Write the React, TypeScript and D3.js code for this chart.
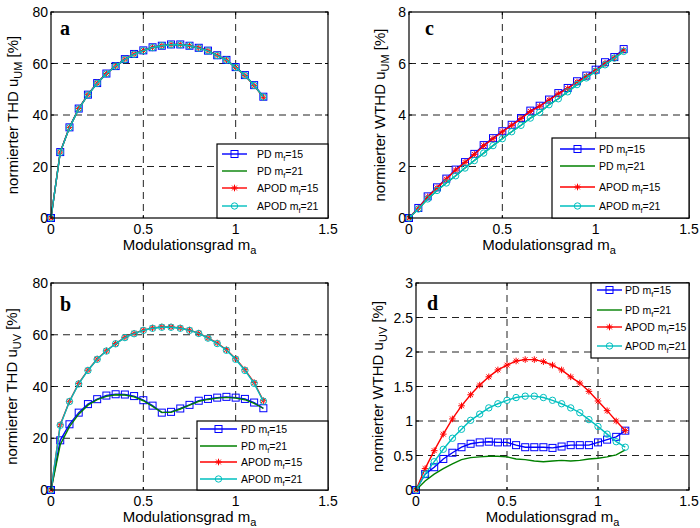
import React from 'react';
import * as d3 from 'd3';

// ---------- data ----------
const ma = [0, 0.05, 0.1, 0.15, 0.2, 0.25, 0.3, 0.35, 0.4, 0.45, 0.5, 0.55, 0.6, 0.65, 0.7, 0.75, 0.8, 0.85, 0.9, 0.95, 1.0, 1.05, 1.1, 1.15];

const xTicks = [0, 0.5, 1, 1.5];
const xTickLabels = ['0', '0.5', '1', '1.5'];
const thdTicks = [0, 20, 40, 60, 80];
const thdTickLabels = ['0', '20', '40', '60', '80'];
const wthdUMTicks = [0, 2, 4, 6, 8];
const wthdUMTickLabels = ['0', '2', '4', '6', '8'];
const wthdUVTicks = [0, 0.5, 1, 1.5, 2, 2.5, 3];
const wthdUVTickLabels = ['0', '0.5', '1', '1.5', '2', '2.5', '3'];

const seriesNames = ['PD', 'PD', 'APOD', 'APOD'];
const seriesMf = ['15', '21', '15', '21'];

// a: THD u_UM
const thdUM_PD15 = [0, 25.6, 35.2, 42.5, 47.9, 52.4, 56.1, 59.0, 61.7, 63.7, 65.1, 66.3, 66.9, 67.4, 67.4, 66.9, 66.1, 65.0, 63.2, 61.4, 58.6, 55.5, 51.6, 47.1];
const thdUM_PD21 = [0, 25.5, 35.1, 42.4, 47.8, 52.3, 56.0, 59.0, 61.6, 63.6, 65.0, 66.2, 66.9, 67.3, 67.3, 66.9, 66.0, 64.9, 63.1, 61.3, 58.5, 55.4, 51.5, 47.0];
const thdUM_APOD15 = [0, 25.6, 35.2, 42.5, 47.9, 52.4, 56.1, 59.0, 61.7, 63.7, 65.1, 66.3, 66.9, 67.4, 67.4, 66.9, 66.1, 65.0, 63.2, 61.3, 58.5, 55.3, 51.4, 46.9];
const thdUM_APOD21 = [0, 25.5, 35.1, 42.4, 47.8, 52.3, 56.0, 59.0, 61.6, 63.6, 65.0, 66.2, 66.9, 67.3, 67.3, 66.9, 66.0, 64.9, 63.1, 61.3, 58.5, 55.4, 51.5, 47.0];

// b: THD u_UV
const thdUV_PD15 = [0, 19.2, 25.4, 29.9, 33.2, 35.1, 36.5, 37.0, 36.9, 36.3, 34.7, 32.6, 29.9, 30.2, 31.5, 32.9, 34.5, 35.2, 35.7, 36.0, 35.7, 35.2, 33.8, 31.6];
const thdUV_PD21 = [0, 17.5, 24.5, 29.3, 32.8, 34.9, 36.2, 36.8, 36.7, 36.0, 34.5, 32.3, 30.0, 30.0, 31.3, 32.8, 34.3, 35.0, 35.5, 35.8, 35.5, 34.9, 33.5, 31.5];
const thdUV_APOD15 = [0, 25.2, 34.3, 41.2, 46.3, 50.6, 53.8, 56.6, 59.0, 60.5, 61.8, 62.6, 63.0, 63.0, 62.6, 61.8, 60.6, 58.8, 56.8, 54.2, 50.7, 46.5, 41.5, 34.5];
const thdUV_APOD21 = [0, 25.0, 34.2, 41.0, 46.2, 50.5, 53.7, 56.5, 58.9, 60.4, 61.7, 62.5, 62.9, 62.9, 62.5, 61.7, 60.5, 58.7, 56.6, 54.0, 50.5, 46.2, 41.2, 34.3];

// c: WTHD u_UM
const wthdUM_PD15 = [0, 0.39, 0.84, 1.19, 1.53, 1.88, 2.17, 2.49, 2.83, 3.10, 3.37, 3.62, 3.88, 4.17, 4.36, 4.60, 4.85, 5.05, 5.31, 5.53, 5.76, 6.05, 6.25, 6.56];
const wthdUM_PD21 = [0, 0.35, 0.74, 1.07, 1.36, 1.64, 1.94, 2.23, 2.52, 2.81, 3.08, 3.35, 3.60, 3.88, 4.10, 4.40, 4.63, 4.90, 5.18, 5.44, 5.70, 5.95, 6.21, 6.47];
const wthdUM_APOD15 = [0, 0.38, 0.82, 1.17, 1.51, 1.86, 2.16, 2.47, 2.81, 3.08, 3.35, 3.60, 3.86, 4.14, 4.34, 4.58, 4.82, 5.03, 5.28, 5.50, 5.73, 6.01, 6.22, 6.52];
const wthdUM_APOD21 = [0, 0.35, 0.74, 1.07, 1.36, 1.64, 1.94, 2.23, 2.52, 2.81, 3.08, 3.35, 3.60, 3.88, 4.10, 4.40, 4.63, 4.90, 5.18, 5.44, 5.70, 5.95, 6.21, 6.47];

// d: WTHD u_UV
const wthdUV_PD15 = [0, 0.23, 0.33, 0.45, 0.54, 0.62, 0.67, 0.69, 0.70, 0.69, 0.69, 0.65, 0.62, 0.62, 0.62, 0.61, 0.63, 0.65, 0.65, 0.65, 0.69, 0.73, 0.77, 0.86];
const wthdUV_PD21 = [0, 0.13, 0.23, 0.31, 0.38, 0.44, 0.47, 0.48, 0.49, 0.49, 0.48, 0.45, 0.44, 0.42, 0.41, 0.42, 0.43, 0.42, 0.43, 0.45, 0.46, 0.48, 0.51, 0.58];
const wthdUV_APOD15 = [0, 0.31, 0.57, 0.81, 1.03, 1.22, 1.38, 1.52, 1.64, 1.74, 1.81, 1.87, 1.89, 1.89, 1.86, 1.81, 1.74, 1.64, 1.55, 1.43, 1.29, 1.15, 1.00, 0.86];
const wthdUV_APOD21 = [0, 0.23, 0.41, 0.59, 0.75, 0.88, 1.01, 1.10, 1.19, 1.25, 1.30, 1.34, 1.36, 1.36, 1.34, 1.30, 1.25, 1.19, 1.12, 1.02, 0.92, 0.81, 0.70, 0.62];

// ---------- styling ----------
const COLORS = ['#0000ff', '#008000', '#ff0000', '#00bfbf'];
const MARKERS = ['square', 'none', 'star', 'circle'];
const FONT = 'Liberation Sans, Arial, sans-serif';

type Panel = {
  letter: string;
  ylab: string;
  ysub: string;
  ymax: number;
  yticks: number[];
  ytickLabels: string[];
  series: number[][];
  x0: number; x1: number; y0: number; y1: number;
  ylabX: number;
  letterX: number; letterY: number;
  leg: { x: number; y: number; w: number; h: number; rows: number[]; l1: number; l2: number; tx: number };
};

const panels: Panel[] = [
  {
    letter: 'a', ylab: 'normierter THD u', ysub: 'UM', ymax: 80, yticks: thdTicks, ytickLabels: thdTickLabels,
    series: [thdUM_PD15, thdUM_PD21, thdUM_APOD15, thdUM_APOD21],
    x0: 51, x1: 328, y0: 12, y1: 218, ylabX: 18, letterX: 60, letterY: 35,
    leg: { x: 217, y: 144, w: 111, h: 74, rows: [154, 171, 188, 206], l1: 222, l2: 247, tx: 257 },
  },
  {
    letter: 'b', ylab: 'normierter THD u', ysub: 'UV', ymax: 80, yticks: thdTicks, ytickLabels: thdTickLabels,
    series: [thdUV_PD15, thdUV_PD21, thdUV_APOD15, thdUV_APOD21],
    x0: 51, x1: 328, y0: 283, y1: 490, ylabX: 17, letterX: 60, letterY: 311,
    leg: { x: 197, y: 421, w: 131, h: 69, rows: [429, 446, 462, 479], l1: 200, l2: 237, tx: 241 },
  },
  {
    letter: 'c', ylab: 'normierter WTHD u', ysub: 'UM', ymax: 8, yticks: wthdUMTicks, ytickLabels: wthdUMTickLabels,
    series: [wthdUM_PD15, wthdUM_PD21, wthdUM_APOD15, wthdUM_APOD21],
    x0: 409, x1: 689, y0: 12, y1: 218, ylabX: 385, letterX: 425, letterY: 35,
    leg: { x: 552, y: 138, w: 137, h: 80, rows: [149, 166, 187, 206], l1: 560, l2: 595, tx: 599 },
  },
  {
    letter: 'd', ylab: 'normierter WTHD u', ysub: 'UV', ymax: 3, yticks: wthdUVTicks, ytickLabels: wthdUVTickLabels,
    series: [wthdUV_PD15, wthdUV_PD21, wthdUV_APOD15, wthdUV_APOD21],
    x0: 416, x1: 689, y0: 283, y1: 490, ylabX: 383, letterX: 427, letterY: 310,
    leg: { x: 591, y: 283, w: 98, h: 75, rows: [290, 310, 327, 346], l1: 597, l2: 622, tx: 625 },
  },
];

function Marker({ type, x, y, color }: { type: string; x: number; y: number; color: string }) {
  if (type === 'square') {
    return <rect x={x - 3.5} y={y - 3.5} width={7} height={7} fill="none" stroke={color} strokeWidth={1} />;
  }
  if (type === 'circle') {
    return <circle cx={x} cy={y} r={3.2} fill="none" stroke={color} strokeWidth={1} />;
  }
  if (type === 'star') {
    const s = 3.3;
    const d2 = 2.4;
    return (
      <g stroke={color} strokeWidth={1}>
        <line x1={x - s} y1={y} x2={x + s} y2={y} />
        <line x1={x} y1={y - s} x2={x} y2={y + s} />
        <line x1={x - d2} y1={y - d2} x2={x + d2} y2={y + d2} />
        <line x1={x - d2} y1={y + d2} x2={x + d2} y2={y - d2} />
      </g>
    );
  }
  return null;
}

function PanelView({ p }: { p: Panel }) {
  const x = d3.scaleLinear().domain([0, 1.5]).range([p.x0, p.x1]);
  const y = d3.scaleLinear().domain([0, p.ymax]).range([p.y1, p.y0]);
  const line = d3.line<number>().x((_, i) => x(ma[i])).y((v) => y(v));
  const cx = (p.x0 + p.x1) / 2;
  const cy = (p.y0 + p.y1) / 2;
  return (
    <g>
      <rect x={p.x0} y={p.y0} width={p.x1 - p.x0} height={p.y1 - p.y0} fill="#fff" />
      {/* grid */}
      {xTicks.filter((t) => t > 0 && t < 1.5).map((t) => (
        <line key={'gx' + t} x1={x(t)} x2={x(t)} y1={p.y0} y2={p.y1} stroke="#222" strokeWidth={1} strokeDasharray="7,5" />
      ))}
      {p.yticks.filter((t) => t > 0 && t < p.ymax).map((t) => (
        <line key={'gy' + t} x1={p.x0} x2={p.x1} y1={y(t)} y2={y(t)} stroke="#222" strokeWidth={1} strokeDasharray="7,5" />
      ))}
      {/* ticks */}
      {xTicks.map((t, i) => (
        <g key={'xt' + t}>
          <line x1={x(t)} x2={x(t)} y1={p.y1} y2={p.y1 - 3} stroke="#000" />
          <line x1={x(t)} x2={x(t)} y1={p.y0} y2={p.y0 + 3} stroke="#000" />
          <text x={x(t)} y={p.y1 + 16} textAnchor="middle" fontSize={14} fontFamily={FONT} fill="#000">{xTickLabels[i]}</text>
        </g>
      ))}
      {p.yticks.map((t, i) => (
        <g key={'yt' + t}>
          <line x1={p.x0} x2={p.x0 + 3} y1={y(t)} y2={y(t)} stroke="#000" />
          <line x1={p.x1} x2={p.x1 - 3} y1={y(t)} y2={y(t)} stroke="#000" />
          <text x={p.x0 - 3} y={y(t)} dy="0.36em" textAnchor="end" fontSize={14} fontFamily={FONT} fill="#000">{p.ytickLabels[i]}</text>
        </g>
      ))}
      {/* series */}
      {p.series.map((s, si) => (
        <g key={'s' + si}>
          <path d={line(s) || ''} fill="none" stroke={COLORS[si]} strokeWidth={1.4} />
          {s.map((v, i) => (
            <Marker key={i} type={MARKERS[si]} x={x(ma[i])} y={y(v)} color={COLORS[si]} />
          ))}
        </g>
      ))}
      {/* box */}
      <rect x={p.x0} y={p.y0} width={p.x1 - p.x0} height={p.y1 - p.y0} fill="none" stroke="#000" strokeWidth={1.2} />
      {/* panel letter */}
      <text x={p.letterX} y={p.letterY} fontSize={20} fontWeight="bold" fontFamily="Liberation Serif, Times New Roman, serif" fill="#000">{p.letter}</text>
      {/* legend */}
      <rect x={p.leg.x} y={p.leg.y} width={p.leg.w} height={p.leg.h} fill="#fff" stroke="#000" strokeWidth={1.2} />
      {seriesNames.map((n, si) => {
        const ry = p.leg.rows[si];
        const mx = (p.leg.l1 + p.leg.l2) / 2;
        return (
          <g key={'l' + si}>
            <line x1={p.leg.l1} x2={p.leg.l2} y1={ry} y2={ry} stroke={COLORS[si]} strokeWidth={1.4} />
            <Marker type={MARKERS[si]} x={mx} y={ry} color={COLORS[si]} />
            <text x={p.leg.tx} y={ry} dy="0.35em" fontSize={10.5} fontFamily={FONT} fill="#000">
              {n} m<tspan fontSize={7.5} dy={3}>f</tspan><tspan dy={-3}>={seriesMf[si]}</tspan>
            </text>
          </g>
        );
      })}
      {/* axis labels */}
      <text x={cx} y={p.y1 + 32} textAnchor="middle" fontSize={15} fontFamily={FONT} fill="#000">
        Modulationsgrad m<tspan fontSize={11} dy={4}>a</tspan>
      </text>
      <text transform={`translate(${p.ylabX},${cy}) rotate(-90)`} textAnchor="middle" fontSize={15} fontFamily={FONT} fill="#000">
        {p.ylab}<tspan fontSize={11} dy={4}>{p.ysub}</tspan><tspan dy={-4}> [%]</tspan>
      </text>
    </g>
  );
}

export default function App() {
  return (
    <svg width={700} height={528} style={{ position: 'absolute', left: 0, top: 0, background: '#fff' }}>
      <rect x={0} y={0} width={700} height={528} fill="#fff" />
      {panels.map((p) => (
        <PanelView key={p.letter} p={p} />
      ))}
    </svg>
  );
}
